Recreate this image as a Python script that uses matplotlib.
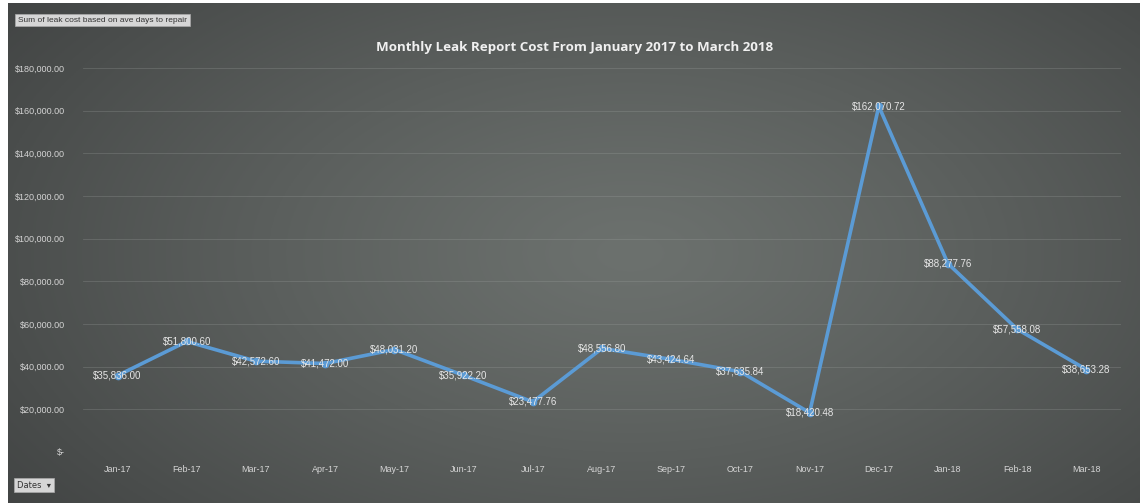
import numpy as np
import matplotlib
matplotlib.use("Agg")
import matplotlib.pyplot as plt
from matplotlib.ticker import FuncFormatter

months = ["Jan-17", "Feb-17", "Mar-17", "Apr-17", "May-17", "Jun-17", "Jul-17",
          "Aug-17", "Sep-17", "Oct-17", "Nov-17", "Dec-17", "Jan-18", "Feb-18", "Mar-18"]
costs = [35836.00, 51800.60, 42572.60, 41472.00, 48031.20, 35922.20, 23477.76,
         48556.80, 43424.64, 37635.84, 18420.48, 162070.72, 88277.76, 57558.08, 38653.28]
yticks = [0, 20000, 40000, 60000, 80000, 100000, 120000, 140000, 160000, 180000]

W, H = 1140, 503
fig = plt.figure(figsize=(W / 100, H / 100), dpi=100)
fig.patch.set_facecolor("white")

# background gradient panel
bg = fig.add_axes([8 / W, 0, 1 - 8 / W, 1 - 3 / H])
bg.set_axis_off()
yy, xx = np.mgrid[0:1:200j, 0:1:400j]
d = np.sqrt(((xx - 0.55) / 0.8) ** 2 + ((yy - 0.5) / 1.0) ** 2)
t = np.clip(d, 0, 1) ** 1.2
c_in = np.array([0x6c, 0x71, 0x6e]) / 255
c_out = np.array([0x39, 0x3b, 0x3b]) / 255
img = c_in[None, None, :] * (1 - t[..., None]) + c_out[None, None, :] * t[..., None]
bg.imshow(img, aspect="auto", extent=[0, 1, 0, 1], origin="lower")
bg.set_xlim(0, 1)
bg.set_ylim(0, 1)

ax = fig.add_axes([83 / W, 1 - 452 / H, (1121 - 83) / W, (452 - 68) / H])
ax.patch.set_alpha(0)
x = np.arange(len(months))
ax.plot(x, costs, color="#5b9bd5", lw=2.6, marker="o", ms=4.5, zorder=3)
for xi, v in zip(x, costs):
    ax.text(xi, v, f"${v:,.2f}", color="#e6e6e6", fontsize=7, ha="center", va="center",
            zorder=4, family="Liberation Sans")

ax.set_xlim(-0.5, len(months) - 0.5)
ax.set_ylim(0, 180000)
ax.set_yticks(yticks)
ax.yaxis.set_major_formatter(FuncFormatter(lambda v, p: "$-" if v == 0 else f"${v:,.2f}"))
ax.set_xticks(x)
ax.set_xticklabels(months)
ax.tick_params(axis="both", length=0, colors="#d4d4d4", labelsize=6.5)
ax.tick_params(axis="y", pad=13)
ax.tick_params(axis="x", pad=9)
for lab in ax.get_xticklabels() + ax.get_yticklabels():
    lab.set_family("Liberation Sans")
ax.grid(axis="y", color="#a0a4a2", lw=0.6, alpha=0.3)
for s in ax.spines.values():
    s.set_visible(False)

fig.text(575 / W, 1 - 47 / H, "Monthly Leak Report Cost From January 2017 to March 2018",
         color="#f0f0f0", fontsize=9.6, fontweight="bold", ha="center", va="center",
         family="Open Sans")

fig.text(18 / W, 1 - 20 / H, "Sum of leak cost based on ave days to repair", fontsize=6,
         color="#333333", ha="left", va="center", family="Liberation Sans",
         bbox=dict(boxstyle="square,pad=0.35", fc="#d6d6d6", ec="#aaaaaa", lw=0.5))
fig.text(17 / W, 1 - 485 / H, "Dates  \u25be", fontsize=6, color="#333333",
         ha="left", va="center", family="DejaVu Sans",
         bbox=dict(boxstyle="square,pad=0.35", fc="#d6d6d6", ec="#aaaaaa", lw=0.5))

fig.savefig("out.png", dpi=100, facecolor=fig.get_facecolor())
